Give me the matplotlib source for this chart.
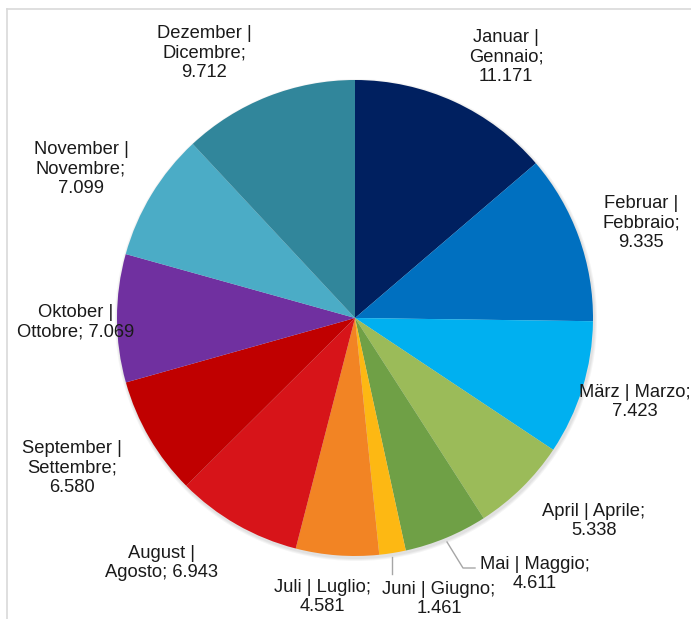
import matplotlib.pyplot as plt
from matplotlib.patches import Circle
from matplotlib.lines import Line2D

# data
MONTHS = ["Januar | Gennaio", "Februar | Febbraio", "März | Marzo", "April | Aprile",
          "Mai | Maggio", "Juni | Giugno", "Juli | Luglio", "August | Agosto",
          "September | Settembre", "Oktober | Ottobre", "November | Novembre",
          "Dezember | Dicembre"]
VALUES = [11171, 9335, 7423, 5338, 4611, 1461, 4581, 6943, 6580, 7069, 7099, 9712]

COLORS = ['#002060', '#0070C0', '#00B0F0', '#9BBB59', '#6FA046', '#FDB813',
          '#F28424', '#D71419', '#C00000', '#7030A0', '#4BACC6', '#31869B']

# label text layout (line breaks) and pixel positions of the label centres
LABEL_TEXT = [
    "Januar |\nGennaio;\n{v}",
    "Februar |\nFebbraio;\n{v}",
    "März | Marzo;\n{v}",
    "April | Aprile;\n{v}",
    "Mai | Maggio;\n{v}",
    "Juni | Giugno;\n{v}",
    "Juli | Luglio;\n{v}",
    "August |\nAgosto; {v}",
    "September |\nSettembre;\n{v}",
    "Oktober |\nOttobre; {v}",
    "November |\nNovembre;\n{v}",
    "Dezember |\nDicembre;\n{v}",
]
LABEL_POS = [(506, 57), (641, 223), (635, 402), (594, 521), (535, 574), (439, 599),
             (322, 597), (161, 563), (72, 468), (76, 322), (81, 169), (204, 53)]

W, H = 691, 619
CX, CY, R = 355, 318, 238


def fmt(v):
    return "{:,}".format(v).replace(",", ".")


plt.rcParams['font.family'] = ['Liberation Sans', 'DejaVu Sans']

fig = plt.figure(figsize=(W / 100, H / 100), dpi=100)
ax = fig.add_axes([0, 0, 1, 1])

# soft shadow
for i, a in enumerate([0.04, 0.04, 0.04]):
    ax.add_patch(Circle((1, -2), R + 3 - i, color='black', alpha=a, lw=0, zorder=0))

ax.pie(VALUES, colors=COLORS, radius=R, center=(0, 0), startangle=90,
       counterclock=False, frame=True, wedgeprops=dict(linewidth=0))
ax.set_xlim(-CX, W - CX)
ax.set_ylim(-(H - CY), CY)
ax.set_aspect('equal')
ax.axis('off')

for txt, (px, py), v in zip(LABEL_TEXT, LABEL_POS, VALUES):
    ax.text(px - CX, CY - py, txt.format(v=fmt(v)), ha='center', va='center',
            fontsize=13.2, color='#1a1a1a', linespacing=1.2, zorder=5)

# leader lines for Mai and Juni
ax.plot([447 - CX, 463 - CX, 475 - CX], [CY - 542, CY - 568, CY - 568],
        color='#a6a6a6', lw=1, zorder=4)
ax.plot([392 - CX, 392 - CX], [CY - 557, CY - 574], color='#a6a6a6', lw=1, zorder=4)

# chart area border
fig.add_artist(Line2D([7 / W, 7 / W], [0, 1 - 9 / H], color='#d9d9d9', lw=1.2))
fig.add_artist(Line2D([7 / W, 1], [1 - 9 / H, 1 - 9 / H], color='#d9d9d9', lw=1.2))

fig.savefig('out.png', dpi=100, facecolor='white')
